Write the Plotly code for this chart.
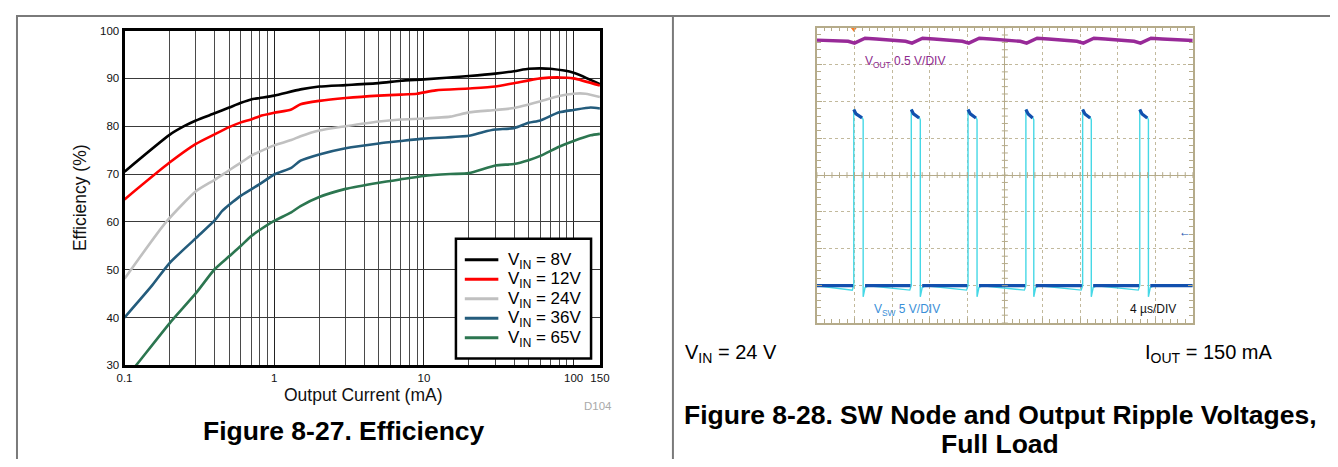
import plotly.graph_objects as go

# The page body adds an 8 px margin; the figure is sized so the page fits the 1338x467 window
# exactly, and all positions below are given in reference-picture pixels.
OFF = 8
W, H = 1338 - 2 * OFF, 467 - 2 * OFF
FONT = "Liberation Sans, Arial, sans-serif"

# ---------------- Efficiency data (Figure 8-27) ----------------
i_8v = [0.1, 0.2, 0.25, 0.3, 0.4, 0.5, 0.6, 0.7, 0.8, 1, 1.5, 2, 3, 5, 7, 10, 20, 30, 40, 50, 60, 70, 100, 150]
e_8v = [70.5, 78.2, 80.0, 81.2, 82.7, 83.9, 84.9, 85.6, 85.9, 86.4, 87.7, 88.3, 88.6, 89.0, 89.5, 89.8, 90.5, 91.0, 91.5, 92.0, 92.1, 92.0, 91.2, 88.8]

i_12v = [0.1, 0.2, 0.3, 0.4, 0.5, 0.6, 0.7, 0.8, 1, 1.3, 1.5, 2, 3, 5, 7, 9, 12, 20, 30, 40, 60, 80, 100, 150]
e_12v = [64.7, 72.4, 76.3, 78.3, 79.8, 80.8, 81.4, 82.1, 82.8, 83.5, 84.6, 85.3, 85.9, 86.4, 86.6, 86.8, 87.5, 87.9, 88.3, 89.0, 90.0, 90.2, 90.0, 88.5]

i_24v = [0.1, 0.19, 0.3, 0.4, 0.5, 0.6, 0.7, 0.8, 1, 1.3, 1.5, 2, 3, 5, 7, 10, 15, 20, 30, 40, 60, 80, 100, 120, 150]
e_24v = [48.1, 60.0, 66.4, 68.8, 70.8, 72.4, 73.8, 74.7, 76.0, 77.1, 77.9, 79.1, 80.0, 81.0, 81.4, 81.6, 82.0, 82.9, 83.4, 83.8, 85.2, 86.3, 86.8, 86.8, 86.1]

i_36v = [0.1, 0.15, 0.2, 0.3, 0.4, 0.45, 0.53, 0.6, 0.8, 1, 1.3, 1.5, 2, 3, 5, 7, 10, 20, 25, 30, 40, 50, 60, 80, 100, 130, 150]
e_36v = [40.0, 46.4, 51.4, 56.6, 60.3, 62.3, 64.2, 65.5, 67.9, 69.9, 71.3, 72.8, 74.1, 75.4, 76.4, 76.9, 77.4, 78.0, 78.8, 79.3, 79.6, 80.7, 81.2, 82.9, 83.4, 83.9, 83.7]

i_65v = [0.1, 0.123, 0.2, 0.3, 0.4, 0.5, 0.6, 0.7, 0.8, 1, 1.3, 1.5, 2, 3, 5, 7, 10, 15, 20, 30, 40, 50, 60, 80, 100, 130, 150]
e_65v = [27.0, 30.5, 38.8, 45.1, 50.1, 52.8, 55.0, 57.0, 58.3, 60.2, 62.0, 63.3, 65.2, 66.9, 68.2, 68.9, 69.6, 70.0, 70.2, 71.8, 72.1, 72.9, 73.8, 75.7, 76.9, 78.1, 78.4]

series_names = ["V<sub>IN</sub> = 8V", "V<sub>IN</sub> = 12V", "V<sub>IN</sub> = 24V",
                "V<sub>IN</sub> = 36V", "V<sub>IN</sub> = 65V"]
series_colors = ["#000000", "#ff0000", "#c0c0c0", "#245c7c", "#2c7650"]

x_tickvals = [0.1, 1, 10, 100, 150]
x_ticktext = ["0.1", "1", "10", "100", "150"]
y_tickvals = [30, 40, 50, 60, 70, 80, 90, 100]

# ---------------- Scope data (Figure 8-28), in divisions ----------------
sw_rise = [-4.02, -2.49, -0.98, 0.56, 2.07, 3.59]
sw_fall = [-3.77, -2.25, -0.74, 0.77, 2.30, 3.82]
sw_low = -3.0
sw_peak = 1.78
sw_high_end = 1.55
sw_undershoot = -3.30
sw_predip = -3.12

vout_t = [-5.0, -4.17, -4.00, -3.72, -3.42, -2.64, -2.47, -2.19, -1.89, -1.13, -0.96, -0.68,
          -0.38, 0.41, 0.58, 0.86, 1.16, 1.92, 2.09, 2.37, 2.67, 3.44, 3.61, 3.89, 4.19, 5.0]
vout_v = [3.66, 3.63, 3.58, 3.71, 3.69, 3.63, 3.58, 3.71, 3.69, 3.63, 3.58, 3.71,
          3.69, 3.63, 3.58, 3.71, 3.69, 3.63, 3.58, 3.71, 3.69, 3.63, 3.58, 3.71, 3.69, 3.65]


def px(x):
    return (x - OFF) / W


def py(y):
    return 1 - (y - OFF) / H


fig = go.Figure()

# ---- efficiency curves
for xs, ys, nm, col in zip([i_8v, i_12v, i_24v, i_36v, i_65v],
                           [e_8v, e_12v, e_24v, e_36v, e_65v],
                           series_names, series_colors):
    fig.add_trace(go.Scatter(x=xs, y=ys, mode="lines", name=nm, showlegend=False,
                             line=dict(color=col, width=2.6, shape="spline", smoothing=0.6),
                             xaxis="x", yaxis="y"))

# ---- scope SW waveform (cyan edges + dark-blue levels)
sw_x, sw_y = [-5.0], [sw_low]
for r, f in zip(sw_rise, sw_fall):
    sw_x += [r - 0.04, r, r, r + 0.06, f - 0.02, f, f, f + 0.05, f + 0.15]
    sw_y += [sw_predip, sw_low, sw_peak, sw_peak - 0.12, sw_high_end, sw_high_end - 0.05,
             sw_undershoot, sw_low - 0.05, sw_low]
sw_x += [5.0]
sw_y += [sw_low]
fig.add_trace(go.Scatter(x=sw_x, y=sw_y, mode="lines", showlegend=False,
                         line=dict(color="#46d8e6", width=1.4), xaxis="x2", yaxis="y2"))

lvl_x, lvl_y = [], []
starts = [-5.0] + [f + 0.05 for f in sw_fall]
ends = [r - 0.02 for r in sw_rise] + [5.0]
for a, b in zip(starts, ends):
    lvl_x += [a, b, None]
    lvl_y += [sw_low, sw_low, None]
for r, f in zip(sw_rise, sw_fall):
    lvl_x += [r, r + 0.06, f - 0.03, None]
    lvl_y += [sw_peak, sw_peak - 0.12, sw_high_end, None]
fig.add_trace(go.Scatter(x=lvl_x, y=lvl_y, mode="lines", showlegend=False,
                         line=dict(color="#1250ae", width=3.2), xaxis="x2", yaxis="y2"))

# ---- scope VOUT
fig.add_trace(go.Scatter(x=vout_t, y=vout_v, mode="lines", showlegend=False,
                         line=dict(color="#982a98", width=3.4), xaxis="x2", yaxis="y2"))

# ---- scope markers
fig.add_trace(go.Scatter(x=[-5.1], y=[sw_low], mode="markers", showlegend=False, cliponaxis=False,
                         marker=dict(symbol="square", size=7, color="#9a1a9a"), xaxis="x2", yaxis="y2"))
fig.add_trace(go.Scatter(x=[sw_rise[0]], y=[3.97], mode="markers", showlegend=False, cliponaxis=False,
                         marker=dict(symbol="triangle-down", size=6, color="#ff7a20"), xaxis="x2", yaxis="y2"))

shapes = []
GR = "#7a7a7a"
# outer frame lines
shapes.append(dict(type="line", xref="paper", yref="paper", x0=px(8), x1=px(1346), y0=py(10), y1=py(10),
                   line=dict(color=GR, width=2)))
shapes.append(dict(type="line", xref="paper", yref="paper", x0=px(9), x1=px(9), y0=py(10), y1=py(475),
                   line=dict(color=GR, width=2)))
shapes.append(dict(type="line", xref="paper", yref="paper", x0=px(674), x1=px(674), y0=py(10), y1=py(475),
                   line=dict(color=GR, width=2)))
# scope center-line ticks
SC = "#b5ab8a"
for k in range(-25, 26):
    t = k * 0.2
    shapes.append(dict(type="line", xref="x2", yref="y2", x0=t, x1=t, y0=-0.08, y1=0.08,
                       line=dict(color=SC, width=1)))
for k in range(-20, 21):
    t = k * 0.2
    shapes.append(dict(type="line", xref="x2", yref="y2", x0=-0.08, x1=0.08, y0=t, y1=t,
                       line=dict(color=SC, width=1)))

# ---- legend box (drawn to match the reference's compact legend)
LEG_L, LEG_R, LEG_T, LEG_B = 454, 591, 239, 362
shapes.append(dict(type="rect", xref="paper", yref="paper", layer="above",
                   x0=px(LEG_L), x1=px(LEG_R), y0=py(LEG_B), y1=py(LEG_T),
                   fillcolor="white", line=dict(color="#000", width=2.5)))
leg_rows = [260.5, 280.5, 300.5, 320.5, 340.5]
annotations = []
for yy, nm, col in zip(leg_rows, series_names, series_colors):
    shapes.append(dict(type="line", xref="paper", yref="paper", layer="above",
                       x0=px(463), x1=px(497), y0=py(yy), y1=py(yy),
                       line=dict(color=col, width=3)))
    annotations.append(dict(text=nm, x=px(505), y=py(yy + 1), xref="paper", yref="paper",
                            xanchor="left", yanchor="middle", showarrow=False,
                            font=dict(size=17, color="#000", family=FONT)))


def label(text, x, y, size, color="#000", xanchor="center", angle=0):
    return dict(text=text, x=px(x), y=py(y), xref="paper", yref="paper", showarrow=False,
                xanchor=xanchor, yanchor="middle", textangle=angle,
                font=dict(size=size, color=color, family=FONT))


annotations += [
    label("Efficiency (%)", 73, 197, 17.5, "#111", angle=-90),
    label("Output Current (mA)", 360, 399, 17.5, "#111"),
    label("D104", 598, 411, 11.5, "#aaaaaa"),
    label("<b>Figure 8-27. Efficiency</b>", 341, 436, 26.5),
    label("<b>Figure 8-28. SW Node and Output Ripple Voltages,</b>", 1006, 420, 26.5),
    label("<b>Full Load</b>", 1006, 450, 26.5),
    label("V<sub>IN</sub> = 24 V", 684, 357, 20, xanchor="left"),
    label("I<sub>OUT</sub> = 150 mA", 1151, 357, 20, xanchor="left"),
    label("V<sub>OUT</sub> 0.5 V/DIV", 867, 57, 12, "#8e2a8e", xanchor="left"),
    label("V<sub>SW</sub> 5 V/DIV", 876, 312, 12, "#3a8fd8", xanchor="left"),
    label("4 µs/DIV", 1186, 311, 12, "#111", xanchor="right"),
    label("←", 1193, 232, 12, "#1250ae"),
]

minor_vals = [m * d for d in (0.1, 1, 10) for m in range(2, 10)]

fig.update_layout(
    width=W, height=H, margin=dict(l=0, r=0, t=0, b=0),
    paper_bgcolor="white", plot_bgcolor="white",
    font=dict(family=FONT, color="#111"),
    shapes=shapes, annotations=annotations,
    showlegend=False,
    xaxis=dict(domain=[px(118), px(600)], type="log", range=[-1, 2.17609], anchor="y",
               tickmode="array", tickvals=x_tickvals, ticktext=x_ticktext, ticks="",
               tickfont=dict(size=11.5, color="#111"),
               showgrid=True, gridcolor="#222", gridwidth=1.3,
               minor=dict(tickmode="array", tickvals=minor_vals, showgrid=True,
                          gridcolor="#4a4a4a", gridwidth=1.3, ticks=""),
               showline=True, linecolor="#000", linewidth=3, mirror=True, zeroline=False),
    yaxis=dict(domain=[py(369), py(25)], range=[30, 100], anchor="x",
               tickmode="array", tickvals=y_tickvals, ticks="",
               tickfont=dict(size=11.5, color="#111"),
               showgrid=True, gridcolor="#3a3a3a", gridwidth=1.3,
               showline=True, linecolor="#000", linewidth=3, mirror=True, zeroline=False),
    xaxis2=dict(domain=[px(820), px(1201)], range=[-5, 5], anchor="y2",
                dtick=1, tick0=0, showticklabels=False,
                showgrid=True, gridcolor="#c2b99c", griddash="dot", gridwidth=1,
                zeroline=True, zerolinecolor=SC, zerolinewidth=1,
                showline=True, linecolor=SC, linewidth=1.5, mirror="allticks",
                ticks="inside", ticklen=5, tickcolor=SC,
                minor=dict(dtick=0.2, ticks="inside", ticklen=4, tickcolor=SC, showgrid=False)),
    yaxis2=dict(domain=[py(325), py(22)], range=[-4, 4], anchor="x2",
                dtick=1, tick0=0, showticklabels=False,
                showgrid=True, gridcolor="#c2b99c", griddash="dot", gridwidth=1,
                zeroline=True, zerolinecolor=SC, zerolinewidth=1,
                showline=True, linecolor=SC, linewidth=1.5, mirror="allticks",
                ticks="inside", ticklen=5, tickcolor=SC,
                minor=dict(dtick=0.2, ticks="inside", ticklen=4, tickcolor=SC, showgrid=False)),
)

fig.write_html("out.html")
